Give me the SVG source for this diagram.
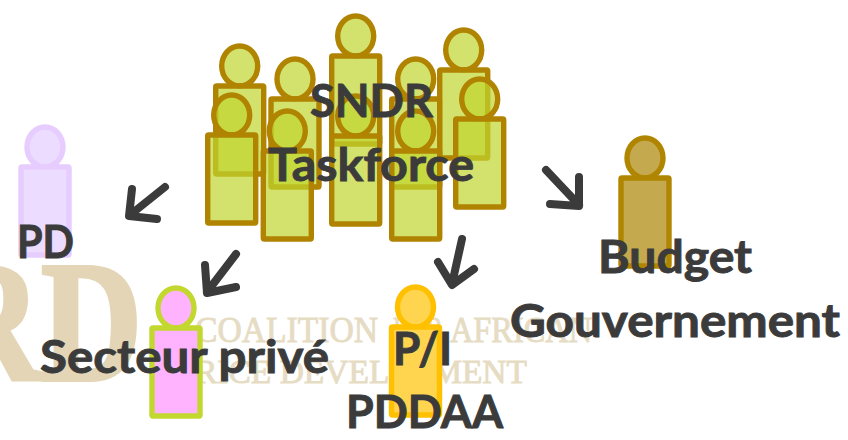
<svg xmlns="http://www.w3.org/2000/svg" width="848" height="440" viewBox="0 0 848 440">
<style>
.wm{font-family:"Liberation Serif",serif;fill:#e6dcc3;stroke:#e6dcc3;stroke-width:.9}
.big{fill:#e3d5b5;stroke:#e3d5b5;stroke-width:4;font-weight:700}
.t{font-family:Lato,"Liberation Sans",sans-serif;font-weight:700;font-size:45px;fill:#3b3b3b;stroke:#3b3b3b;stroke-width:.9}
.a{fill:none;stroke:#3b3b3b;stroke-width:8;stroke-linecap:round;stroke-linejoin:round}
.sw{stroke-width:5.4;stroke-linejoin:round}
.g{fill:#c0d62f;fill-opacity:.7;stroke:#b08400}
.pd{fill:#ecdcff;stroke:#e6ccff}
.sp{fill:#ffb3ff;stroke:#c3d82f}
.pi{fill:#ffd54f;stroke:#ffc000}
.bu{fill:#c4a94f;stroke:#b08600}
</style>
<defs>
<g id="person" class="sw"><ellipse cx="0" cy="0" rx="18" ry="20"/><rect x="-24" y="20" width="48" height="88" rx="1"/></g>
</defs>
<g id="watermark">
<text class="wm big" x="-60" y="380" font-size="172" textLength="202" lengthAdjust="spacingAndGlyphs">RD</text>
<text class="wm" x="195" y="342" font-size="36" textLength="183" lengthAdjust="spacingAndGlyphs">COALITION</text>
<text class="wm" x="393" y="342" font-size="36" textLength="50" lengthAdjust="spacingAndGlyphs">FOR</text>
<text class="wm" x="450" y="342" font-size="36" textLength="142" lengthAdjust="spacingAndGlyphs">AFRICAN</text>
<text class="wm" x="195" y="383" font-size="34" textLength="332" lengthAdjust="spacingAndGlyphs">RICE DEVELOPMENT</text>
</g>
<g id="node-pd"><use href="#person" class="pd" x="45" y="147"/><text class="t" x="17" y="258" textLength="57" lengthAdjust="spacingAndGlyphs">PD</text></g>
<g id="node-taskforce">
<use href="#person" class="g" x="239.7" y="66"/>
<use href="#person" class="g" x="295" y="79"/>
<use href="#person" class="g" x="355.7" y="36"/>
<use href="#person" class="g" x="415.7" y="79"/>
<use href="#person" class="g" x="463.7" y="50"/>
<use href="#person" class="g" x="231.7" y="115"/>
<use href="#person" class="g" x="287.3" y="131"/>
<use href="#person" class="g" x="355.7" y="116"/>
<use href="#person" class="g" x="415.7" y="131"/>
<use href="#person" class="g" x="479.7" y="99"/>
<text class="t" x="310" y="117" textLength="123" lengthAdjust="spacingAndGlyphs">SNDR</text>
<text class="t" x="268" y="181" textLength="206" lengthAdjust="spacingAndGlyphs">Taskforce</text>
</g>
<g id="node-secteur"><use href="#person" class="sp" x="176" y="308"/><text class="t" x="40" y="373" textLength="289" lengthAdjust="spacingAndGlyphs">Secteur privé</text></g>
<g id="node-pi"><use href="#person" class="pi" x="415.5" y="307"/><text class="t" x="393" y="365" textLength="59" lengthAdjust="spacingAndGlyphs">P/I</text><text class="t" x="346" y="428" textLength="157" lengthAdjust="spacingAndGlyphs">PDDAA</text></g>
<g id="node-budget"><use href="#person" class="bu" x="645" y="158"/><text class="t" x="598" y="273" textLength="154" lengthAdjust="spacingAndGlyphs">Budget</text><text class="t" x="510" y="337" textLength="330" lengthAdjust="spacingAndGlyphs">Gouvernement</text></g>
<g id="connectors">
<path class="a" d="M165 187L130 215M132 189L129 216L157 219"/>
<path class="a" d="M236 254L207 292M205 265L207 293L236 287"/>
<path class="a" d="M462 239L452 284M438 262L452 285L474 269"/>
<path class="a" d="M546 170L579 205M579 177L579 206L550 204"/>
</g>
</svg>
